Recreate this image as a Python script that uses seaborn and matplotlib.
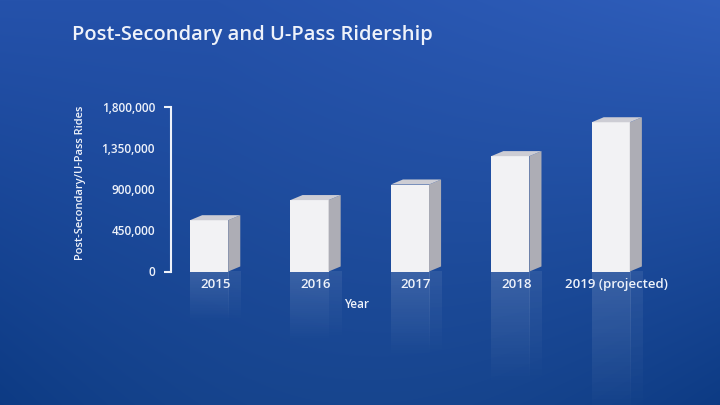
import numpy as np
import pandas as pd
import matplotlib
matplotlib.use("Agg")
import matplotlib.pyplot as plt
import seaborn as sns
from matplotlib.patches import Polygon

# ---- data ----
years = ["2015", "2016", "2017", "2018", "2019 (projected)"]
rides = [560000, 780000, 950000, 1260000, 1630000]
y_ticks = [0, 450000, 900000, 1350000, 1800000]
y_tick_labels = ["0", "450,000", "900,000", "1,350,000", "1,800,000"]

df = pd.DataFrame({"Year": years, "Rides": rides})

sns.set_theme(style="white")
plt.rcParams["font.family"] = ["Open Sans", "DejaVu Sans"]
TXT = "#eef2fa"

fig = plt.figure(figsize=(7.2, 4.05), dpi=100)

# ---- background gradient ----
bg = fig.add_axes([0, 0, 1, 1], zorder=0)
H, W = 405, 720
yy, xx = np.mgrid[0:H, 0:W]
t = yy / (H - 1)
s = xx / (W - 1)
top = np.array([0x25, 0x52, 0xab]) / 255
bot = np.array([0x17, 0x45, 0x8e]) / 255
img = top[None, None, :] * (1 - t[..., None]) + bot[None, None, :] * t[..., None]
glow = np.clip(0.09 * (s - 0.3) * (1 - t) * 1.2, 0, None)
img = img + glow[..., None] * np.array([0.5, 0.6, 0.8])[None, None, :]
edge = 0.04 * (np.abs(s - 0.5) * 2) ** 2 * t
img = img - edge[..., None]
bg.imshow(np.clip(img, 0, 1), aspect="auto", extent=(0, 1, 0, 1))
bg.set_axis_off()

# ---- main axes ----
ax = fig.add_axes([171 / 720, 133.5 / 405, 501 / 720, 164.8 / 405], zorder=1)
ax.patch.set_alpha(0)

sns.barplot(data=df, x="Year", y="Rides", color="#f2f2f4", saturation=1,
            width=0.38, edgecolor="none", ax=ax)

dx = 0.12
dy = 55000
for p in ax.patches:
    x0 = p.get_x() - dx / 2
    p.set_x(x0)
    w = p.get_width()
    h = p.get_height()
    x1 = x0 + w
    side = Polygon([(x1, 0), (x1 + dx, dy), (x1 + dx, h + dy), (x1, h)],
                   closed=True, facecolor="#adadb5", edgecolor="none", zorder=2)
    topf = Polygon([(x0, h), (x1, h), (x1 + dx, h + dy), (x0 + dx, h + dy)],
                   closed=True, facecolor="#cdcdd4", edgecolor="none", zorder=2)
    ax.add_patch(side)
    ax.add_patch(topf)
    # reflections
    n = 64
    grad = np.zeros((n, 1, 4))
    grad[..., :3] = 1.0
    grad[:, 0, 3] = np.linspace(0.14, 0.0, n)
    ax.imshow(grad, extent=(x0, x1, -h, 0), aspect="auto", clip_on=False,
              zorder=0.5, interpolation="bilinear")
    grad2 = grad.copy()
    grad2[:, 0, 3] = np.linspace(0.08, 0.0, n)
    ax.imshow(grad2, extent=(x1, x1 + dx, -h, 0), aspect="auto", clip_on=False,
              zorder=0.5, interpolation="bilinear")

ax.set_xlim(-0.44, 4.55)
ax.set_ylim(0, 1800000)

for sp in ["top", "right", "bottom"]:
    ax.spines[sp].set_visible(False)
ax.spines["left"].set_color(TXT)
ax.spines["left"].set_linewidth(1.5)

ax.yaxis.remove_overlapping_locs = False
ax.set_yticks(y_ticks)
ax.set_yticklabels(y_tick_labels)
ax.set_yticks([0, 1800000], minor=True)
ax.tick_params(axis="y", which="major", length=0, pad=11.5, labelsize=8.5,
               labelcolor=TXT)
ax.tick_params(axis="y", which="minor", length=5, width=1.5, color=TXT,
               direction="out", left=True)
ax.tick_params(axis="x", length=0, pad=5, labelsize=9.5, labelcolor=TXT)
for lab in ax.get_xticklabels() + ax.get_yticklabels():
    lab.set_fontweight("semibold")

ax.set_xlabel("Year", color=TXT, fontsize=8.5, fontweight="semibold")
ax.xaxis.set_label_coords((357 - 171) / 501, (271.5 - 304) / 164.8)
ax.xaxis.label.set_va("center")
ax.set_ylabel("Post-Secondary/U-Pass Rides", color=TXT, fontsize=8,
              fontweight="semibold")
ax.yaxis.set_label_coords((81 - 171) / 501, (271.5 - 183) / 164.8)
ax.yaxis.label.set_va("center")

fig.text(72 / 720, 1 - 35 / 405, "Post-Secondary and U-Pass Ridership",
         ha="left", va="center", fontsize=14.5, color=TXT, fontweight="semibold")

fig.savefig("out.png", dpi=100)
